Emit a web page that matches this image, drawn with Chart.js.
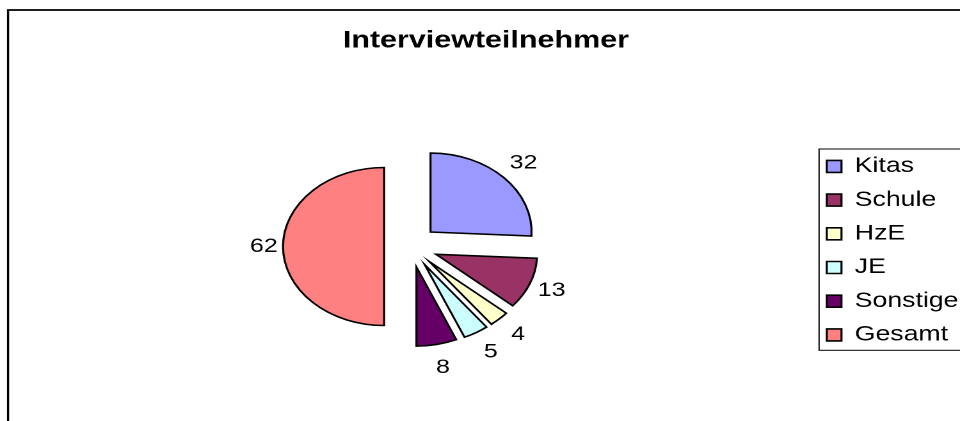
<!DOCTYPE html>
<html>
<head>
<meta charset="utf-8">
<title>Interviewteilnehmer</title>
<script src="https://cdn.jsdelivr.net/npm/chart.js@4.4.1/dist/chart.umd.min.js"></script>
<style>
  html, body { margin: 0; padding: 0; background: #fff; overflow: hidden; }
</style>
</head>
<body>
<!-- drawn at 750 wide and stretched to 960, like the original picture -->
<canvas id="chart" width="750" height="421" style="display:block;width:960px;height:421px"></canvas>
<script>
const labels = ['Kitas', 'Schule', 'HzE', 'JE', 'Sonstige', 'Gesamt'];
const values = [32, 13, 4, 5, 8, 62];
const colors = ['#9999FF', '#993366', '#FFFFCC', '#CCFFFF', '#660066', '#FF8080'];

const FONT = '"Liberation Sans", Arial, sans-serif';
const explodeBy = 21;   // every slice is pulled out of the pie

// pull every slice outwards along its middle angle
const explodePlugin = {
    id: 'explode',
    afterDatasetsUpdate(chart) {
        chart.getDatasetMeta(0).data.forEach(function(arc) {
            const mid = (arc.startAngle + arc.endAngle) / 2;
            arc.x += Math.cos(mid) * explodeBy;
            arc.y += Math.sin(mid) * explodeBy;
        });
    }
};

// value labels outside the slices (a bit further out above/below the pie)
const valueLabels = {
    id: 'valueLabels',
    afterDatasetsDraw(chart) {
        const ctx = chart.ctx;
        ctx.save();
        ctx.font = '19.5px ' + FONT;
        ctx.fillStyle = '#000';
        ctx.textAlign = 'center';
        ctx.textBaseline = 'middle';
        chart.getDatasetMeta(0).data.forEach(function(arc, i) {
            const mid = (arc.startAngle + arc.endAngle) / 2;
            const r = arc.outerRadius + 15 + 9 * Math.abs(Math.sin(mid));
            ctx.fillText(String(values[i]), arc.x + Math.cos(mid) * r, arc.y + Math.sin(mid) * r);
        });
        ctx.restore();
    }
};

// outer frame (left and top edge) and the box round the legend
const frames = {
    id: 'frames',
    beforeDraw(chart) {
        const ctx = chart.ctx;
        ctx.save();
        ctx.strokeStyle = '#000';
        ctx.lineWidth = 1.7;
        ctx.beginPath();
        ctx.moveTo(6.3, chart.height + 5);
        ctx.lineTo(6.3, 10);
        ctx.lineTo(chart.width + 5, 10);
        ctx.stroke();
        ctx.restore();
    },
    afterDraw(chart) {
        const hb = chart.legend.legendHitBoxes;
        if (!hb || !hb.length) return;
        const first = hb[0], last = hb[hb.length - 1];
        const ctx = chart.ctx;
        const top = first.top - 7;
        ctx.save();
        ctx.strokeStyle = '#000';
        ctx.lineWidth = 1;
        ctx.strokeRect(first.left - 6, top, chart.width, last.top + last.height + 5 - top);
        ctx.restore();
    }
};

new Chart(document.getElementById('chart').getContext('2d'), {
    type: 'pie',
    data: {
        labels: labels,
        datasets: [{
            data: values,
            backgroundColor: colors,
            borderColor: '#000',
            borderWidth: 1.6,
            borderJoinStyle: 'miter'
        }]
    },
    options: {
        responsive: false,
        animation: false,
        events: [],
        devicePixelRatio: 2,
        radius: 79,
        layout: { padding: { left: 9.2, right: 0, top: 0, bottom: 62.8 } },
        plugins: {
            title: {
                display: true,
                text: 'Interviewteilnehmer',
                color: '#000',
                font: { family: FONT, size: 23.8, weight: 'bold', lineHeight: 1 },
                padding: { top: 29, bottom: 82 }
            },
            legend: {
                position: 'right',
                align: 'end',
                maxWidth: 117,
                labels: {
                    boxWidth: 11.5,
                    boxHeight: 12,
                    padding: 12.9,
                    color: '#000',
                    font: { family: FONT, size: 20.8 }
                }
            },
            tooltip: { enabled: false }
        }
    },
    plugins: [explodePlugin, valueLabels, frames]
});
</script>
</body>
</html>
